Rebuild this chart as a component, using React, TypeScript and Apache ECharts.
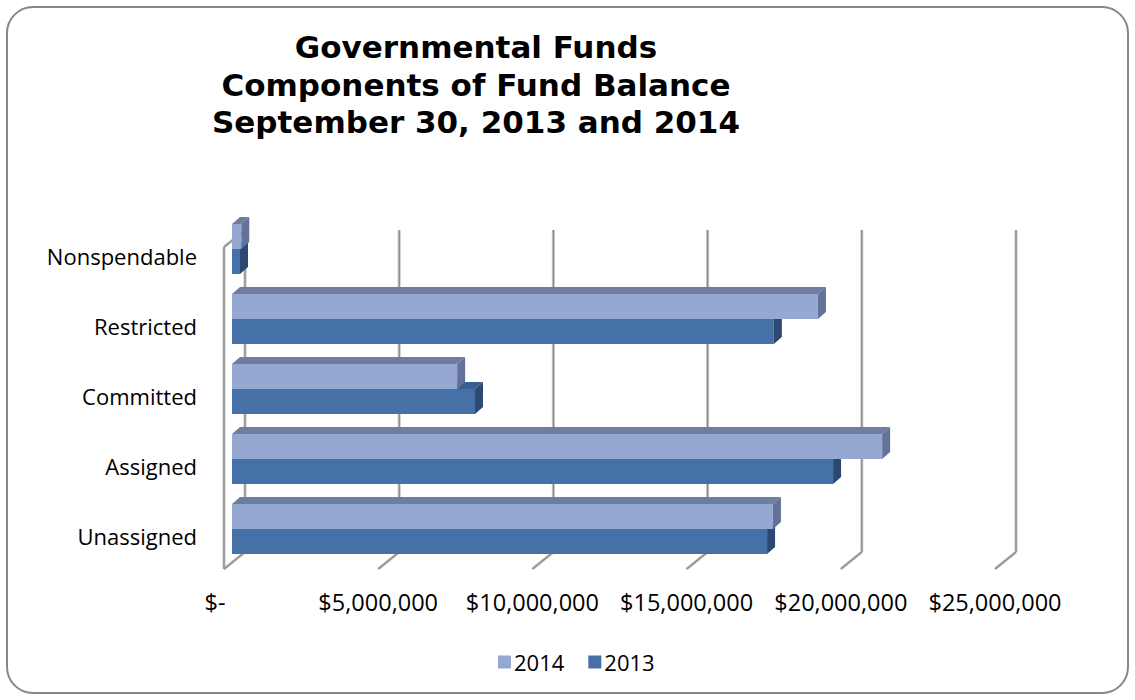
import React, { useEffect, useRef } from "react";
import * as echarts from "echarts";

const categories = ["Nonspendable", "Restricted", "Committed", "Assigned", "Unassigned"];
const values2014 = [300000, 19000000, 7300000, 21080000, 17540000];
const values2013 = [260000, 17570000, 7880000, 19490000, 17350000];
const tickValues = [0, 5000000, 10000000, 15000000, 20000000, 25000000];
const titleLines = ["Governmental Funds", "Components of Fund Balance", "September 30, 2013 and 2014"];
const seriesNames = ["2014", "2013"];

const FONT = "'Open Sans', 'Noto Sans', sans-serif";
const TITLE_FONT = "'DejaVu Sans', 'Open Sans', sans-serif";
// bar geometry (pseudo-3D)
const DX = 8, DY = 7; // bar front face offset from front plane
const BDX = 8, BDY = 7; // bar depth
const BAR_H = 25;
const WX = 21, WY = 17; // wall depth

const faces2014 = { front: "#94A8D1", top: "#6F7EA0", side: "#62729A" };
const faces2013 = { front: "#4571A6", top: "#39608F", side: "#2C4A71" };

function barRender(faces: any, slot: number) {
  return (params: any, api: any) => {
    const v = api.value(0);
    const idx = api.value(1);
    const end = api.coord([v, idx]);
    const start = api.coord([0, idx]);
    const yc = end[1] - DY;
    const yT = slot === 0 ? yc - BAR_H : yc;
    const yB = yT + BAR_H;
    const x0 = start[0] + DX;
    const x1 = end[0] + DX;
    return {
      type: "group",
      children: [
        {
          type: "polygon",
          shape: { points: [[x0, yT], [x1, yT], [x1 + BDX, yT - BDY], [x0 + BDX, yT - BDY]] },
          style: { fill: faces.top },
        },
        {
          type: "polygon",
          shape: { points: [[x1, yT], [x1 + BDX, yT - BDY], [x1 + BDX, yB - BDY], [x1, yB]] },
          style: { fill: faces.side },
        },
        {
          type: "rect",
          shape: { x: x0, y: yT, width: x1 - x0, height: BAR_H },
          style: { fill: faces.front },
        },
      ],
    };
  };
}

function gridRender(params: any, api: any) {
  const v = api.value(0);
  const cs = params.coordSys;
  const p = api.coord([v, 0]);
  const x = p[0];
  const yBot = cs.y + cs.height - 2;
  const yTop = cs.y + 26;
  const outer = { stroke: "#cfcfcf", lineWidth: 3.2 };
  const inner = { stroke: "#868686", lineWidth: 1.3 };
  const segs: number[][] = [
    [x, yBot, x + WX, yBot - WY],
    [x + WX, yBot - WY, x + WX, yTop - WY],
  ];
  if (v === 0) {
    segs.push([x, yTop, x, yBot]);
    segs.push([x, yTop, x + WX, yTop - WY]);
  }
  const children: any[] = [];
  segs.forEach((s) => {
    children.push({ type: "line", shape: { x1: s[0], y1: s[1], x2: s[2], y2: s[3] }, style: outer });
  });
  segs.forEach((s) => {
    children.push({ type: "line", shape: { x1: s[0], y1: s[1], x2: s[2], y2: s[3] }, style: inner });
  });
  return { type: "group", children };
}

function money(v: number) {
  if (v === 0) return "{z|$-}";
  return "$" + v.toLocaleString("en-US");
}

export default function App() {
  const ref = useRef<HTMLDivElement>(null);
  useEffect(() => {
    if (!ref.current) return;
    const chart = echarts.init(ref.current, null, { renderer: "svg" });
    const titleTexts = titleLines.map((t, i) => ({
      type: "text",
      x: 476,
      y: 47 + i * 37.5,
      style: {
        text: t,
        font: "bold 31px " + TITLE_FONT,
        fill: "#000",
        textAlign: "center",
        textVerticalAlign: "middle",
      },
    }));
    chart.setOption({
      animation: false,
      backgroundColor: "#ffffff",
      graphic: [
        {
          type: "rect",
          shape: { x: 7, y: 7, width: 1121, height: 686, r: 26 },
          style: { fill: "none", stroke: "#868686", lineWidth: 2 },
          z: 0,
        },
        ...titleTexts,
      ],
      legend: {
        data: seriesNames,
        top: 646,
        left: 493,
        itemWidth: 13,
        itemHeight: 13,
        itemGap: 24,
        icon: "rect",
        textStyle: { fontFamily: FONT, fontSize: 22, color: "#000", padding: [0, 0, 0, -2] },
      },
      grid: { left: 224, right: 140, top: 221, height: 350, containLabel: false },
      xAxis: {
        type: "value",
        min: 0,
        max: 25000000,
        interval: 5000000,
        axisLine: { show: false },
        axisTick: { show: false },
        splitLine: { show: false },
        axisLabel: {
          margin: 19,
          fontFamily: FONT,
          fontSize: 23.5,
          color: "#000",
          formatter: money,
          rich: { z: { fontFamily: FONT, fontSize: 23.5, color: "#000", padding: [0, 18, 0, 0] } },
        },
      },
      yAxis: {
        type: "category",
        inverse: true,
        data: categories,
        axisLine: { show: false },
        axisTick: { show: false },
        axisLabel: { margin: 27, fontFamily: FONT, fontSize: 22, color: "#000" },
      },
      series: [
        {
          type: "custom",
          name: "grid",
          silent: true,
          clip: false,
          z: 1,
          renderItem: gridRender,
          data: tickValues.map((v) => [v, 0]),
        },
        {
          type: "custom",
          name: "2013",
          clip: false,
          z: 2,
          itemStyle: { color: faces2013.front },
          renderItem: barRender(faces2013, 1),
          data: values2013.map((v, i) => [v, i]),
        },
        {
          type: "custom",
          name: "2014",
          clip: false,
          z: 3,
          itemStyle: { color: faces2014.front },
          renderItem: barRender(faces2014, 0),
          data: values2014.map((v, i) => [v, i]),
        },
      ],
    });
    return () => chart.dispose();
  }, []);
  return (
    <div
      ref={ref}
      style={{ position: "fixed", left: 0, top: 0, width: 1135, height: 700 }}
    />
  );
}
